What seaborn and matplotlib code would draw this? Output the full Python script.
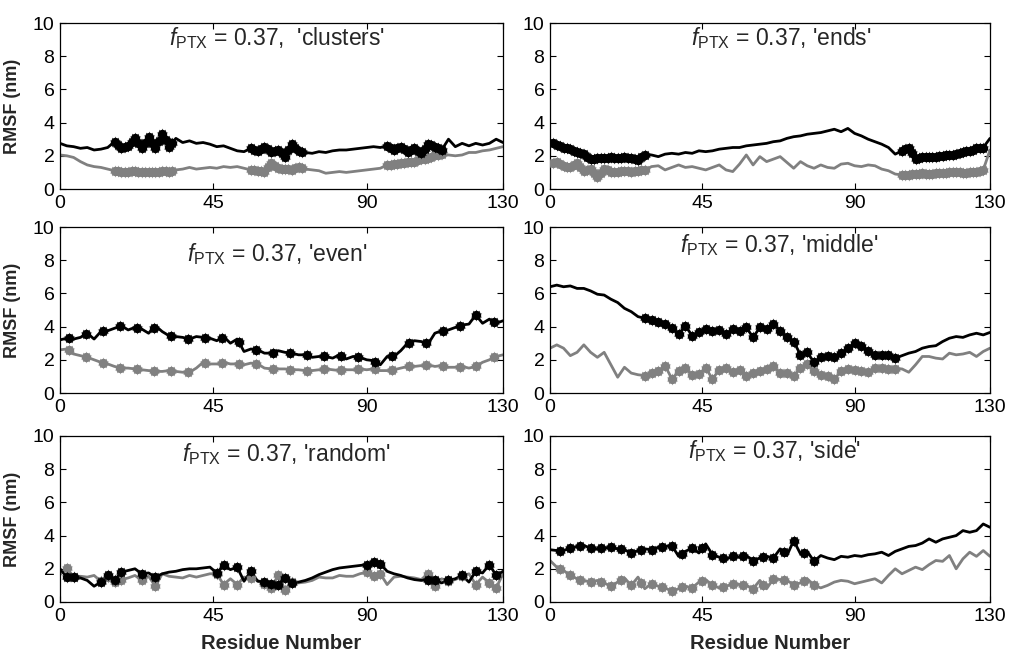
import numpy as np
import pandas as pd
import matplotlib
matplotlib.use("Agg")
import matplotlib.pyplot as plt
import seaborn as sns

# ---------------- data (RMSF in nm, sampled every 2 residues) ----------------
residues = list(range(0, 131, 2))

clusters_black = [2.75, 2.6, 2.55, 2.45, 2.5, 2.35, 2.4, 2.5, 2.85, 2.5, 2.6, 3.05, 2.45, 3.15, 2.45, 3.3, 2.55,
                  3.05, 2.8, 2.9, 2.75, 2.8, 2.7, 2.55, 2.6, 2.45, 2.3, 2.25, 2.45, 2.3, 2.55, 2.25, 2.35, 1.95,
                  2.7, 2.3, 2.2, 2.15, 2.25, 2.2, 2.3, 2.35, 2.35, 2.4, 2.45, 2.5, 2.55, 2.5, 2.6, 2.35, 2.55,
                  2.25, 2.45, 2.15, 2.7, 2.55, 2.35, 3.0, 2.55, 2.75, 2.6, 2.75, 2.65, 2.75, 3.0, 2.8]
clusters_gray = [2.05, 2.0, 1.9, 1.65, 1.45, 1.35, 1.3, 1.2, 1.1, 1.05, 1.05, 1.1, 1.0, 1.05, 1.0, 1.1, 1.05,
                 1.15, 1.2, 1.3, 1.2, 1.25, 1.3, 1.25, 1.35, 1.3, 1.35, 1.25, 1.15, 1.1, 1.05, 1.55, 1.25, 1.2,
                 1.15, 1.35, 1.2, 1.15, 1.1, 0.95, 1.0, 1.05, 1.0, 1.05, 1.1, 1.15, 1.2, 1.25, 1.45, 1.5, 1.55,
                 1.6, 1.65, 1.8, 1.85, 2.05, 2.1, 2.05, 2.0, 2.05, 2.2, 2.2, 2.3, 2.35, 2.45, 2.55]
clusters_marks = [16, 17, 18, 19, 20, 21, 22, 23, 24, 25, 26, 27, 28, 29, 30, 31, 32, 33,
                  56, 57, 58, 59, 60, 61, 62, 63, 64, 65, 66, 67, 68, 69, 70, 71,
                  96, 97, 98, 99, 100, 101, 102, 103, 104, 105, 106, 107, 108, 109, 110, 111, 112]

ends_black = [2.95, 2.65, 2.5, 2.4, 2.2, 2.1, 1.8, 1.85, 1.85, 1.9, 1.85, 1.9, 1.85, 1.75, 2.05, 2.05, 1.95,
              2.1, 2.15, 2.1, 2.2, 2.15, 2.3, 2.25, 2.3, 2.4, 2.45, 2.5, 2.5, 2.6, 2.65, 2.7, 2.75, 2.85, 2.9,
              3.05, 3.15, 3.2, 3.3, 3.35, 3.4, 3.5, 3.6, 3.45, 3.65, 3.35, 3.2, 3.0, 2.85, 2.7, 2.5, 2.1, 2.3,
              2.5, 1.8, 1.95, 1.95, 1.95, 2.0, 2.05, 2.1, 2.25, 2.3, 2.45, 2.5, 3.05]
ends_gray = [1.55, 1.6, 1.4, 1.3, 1.55, 1.1, 1.2, 0.75, 1.2, 1.05, 1.05, 1.1, 1.05, 1.1, 1.15, 1.35, 1.4,
             1.15, 1.3, 1.45, 1.3, 1.35, 1.25, 1.15, 1.3, 1.45, 1.15, 1.05, 1.5, 2.05, 1.45, 1.95, 1.65, 1.8,
             1.95, 1.6, 1.25, 1.65, 1.4, 1.25, 1.45, 1.3, 1.25, 1.5, 1.55, 1.4, 1.35, 1.45, 1.4, 1.2, 1.1,
             0.9, 0.85, 0.85, 0.9, 0.95, 0.9, 0.95, 0.95, 1.0, 1.05, 0.95, 1.0, 1.05, 1.15, 2.35]
ends_marks = [1, 2, 3, 4, 5, 6, 7, 8, 9, 10, 11, 12, 13, 14, 15, 16, 17, 18, 19, 20, 21, 22, 23, 24, 25,
              26, 27, 28, 104, 105, 106, 107, 108, 109, 110, 111, 112, 113, 114, 115, 116, 117, 118, 119,
              120, 121, 122, 123, 124, 125, 126, 127, 128]

even_black = [3.2, 3.3, 3.25, 3.35, 3.6, 3.25, 3.7, 3.75, 3.9, 4.05, 3.8, 3.95, 3.85, 3.6, 4.05, 3.7, 3.45,
              3.4, 3.35, 3.25, 3.4, 3.35, 3.3, 3.15, 3.4, 3.0, 3.25, 2.5, 2.65, 2.6, 2.4, 2.4, 2.55, 2.45,
              2.4, 2.3, 2.3, 2.15, 2.2, 2.2, 2.1, 2.3, 2.05, 2.2, 2.15, 2.0, 1.95, 1.7, 2.2, 2.2, 2.55, 3.0,
              3.15, 3.1, 2.95, 3.6, 3.75, 3.8, 3.95, 4.1, 4.15, 4.7, 4.2, 4.45, 4.2, 4.35]
even_gray = [2.6, 2.65, 2.35, 2.25, 2.15, 2.0, 1.85, 1.75, 1.6, 1.5, 1.5, 1.45, 1.4, 1.35, 1.3, 1.3, 1.35,
             1.3, 1.25, 1.25, 1.5, 1.85, 1.75, 1.75, 1.85, 1.75, 1.75, 1.7, 1.8, 1.75, 1.5, 1.45, 1.45, 1.45,
             1.4, 1.4, 1.35, 1.35, 1.4, 1.45, 1.4, 1.35, 1.4, 1.4, 1.45, 1.4, 1.45, 1.35, 1.35, 1.4, 1.5,
             1.6, 1.6, 1.65, 1.7, 1.6, 1.65, 1.55, 1.55, 1.6, 1.5, 1.6, 1.85, 2.0, 2.2, 2.3]
even_marks = [2.5, 7.5, 12.5, 17.5, 22.5, 27.5, 32.5, 37.5, 42.5, 47.5, 52.5, 57.5, 62.5, 67.5, 72.5,
              77.5, 82.5, 87.5, 92.5, 97.5, 102.5, 107.5, 112.5, 117.5, 122, 127.5]

middle_black = [6.4, 6.5, 6.4, 6.45, 6.3, 6.3, 6.15, 5.95, 5.9, 5.65, 5.45, 5.1, 4.9, 4.6, 4.5, 4.4, 4.25,
                4.15, 3.9, 3.55, 4.05, 3.45, 3.65, 3.85, 3.75, 3.8, 3.55, 3.85, 3.75, 3.95, 3.35, 3.95, 3.85,
                4.15, 3.75, 3.35, 3.1, 2.3, 2.45, 1.85, 2.15, 2.2, 2.15, 2.4, 2.7, 3.0, 2.85, 2.55, 2.3, 2.3,
                2.3, 2.1, 2.25, 2.4, 2.5, 2.7, 2.8, 2.85, 3.1, 3.3, 3.4, 3.35, 3.5, 3.6, 3.5, 3.65]
middle_gray = [2.7, 2.9, 2.7, 2.25, 2.45, 2.9, 2.45, 2.15, 2.45, 1.7, 0.95, 1.55, 1.2, 1.1, 1.05, 1.2, 1.3,
               1.65, 0.85, 1.3, 1.5, 1.1, 1.15, 1.5, 0.85, 1.4, 1.5, 1.25, 1.4, 1.05, 1.2, 1.3, 1.45, 1.6,
               1.2, 1.2, 1.05, 1.5, 1.75, 1.3, 1.1, 1.0, 0.85, 1.3, 1.45, 1.4, 1.3, 1.25, 1.5, 1.5, 1.45,
               1.45, 1.45, 1.25, 1.7, 2.2, 2.2, 2.1, 2.05, 2.4, 2.3, 2.35, 2.45, 2.2, 2.5, 2.7]
middle_marks = [28, 30, 32, 34, 36, 38, 40, 42, 44, 46, 48, 50, 52, 54, 56, 58, 60, 62, 64, 66, 68, 70,
                72, 74, 76, 78, 80, 82, 84, 86, 88, 90, 92, 94, 96, 98, 100, 102]

random_black = [2.0, 1.5, 1.5, 1.45, 1.3, 0.95, 1.2, 1.6, 1.3, 1.8, 1.9, 2.0, 1.7, 1.75, 1.5, 1.7, 1.8,
                1.85, 1.95, 2.0, 2.0, 2.05, 2.1, 1.75, 2.2, 1.95, 2.1, 1.25, 1.85, 1.25, 1.2, 1.1, 1.05, 1.45,
                1.15, 1.2, 1.3, 1.45, 1.65, 1.8, 1.95, 2.05, 2.1, 2.15, 2.2, 2.25, 2.4, 2.3, 1.85, 1.7, 1.6,
                1.45, 1.35, 1.3, 1.35, 1.3, 1.15, 1.3, 1.4, 1.6, 1.2, 1.85, 1.75, 2.25, 1.6, 1.85]
random_gray = [1.65, 2.05, 1.5, 1.55, 1.5, 1.6, 1.25, 1.5, 1.2, 1.35, 1.45, 1.6, 1.3, 1.55, 0.95, 1.7, 1.55,
               1.5, 1.45, 1.6, 1.5, 1.6, 1.7, 1.7, 1.05, 1.4, 1.05, 1.5, 1.45, 1.3, 1.1, 0.85, 1.6, 0.75,
               1.2, 1.15, 1.2, 1.3, 1.5, 1.45, 1.45, 1.6, 1.55, 1.55, 1.7, 1.8, 1.55, 1.7, 1.05, 1.5, 1.55,
               1.5, 1.45, 1.35, 1.7, 0.95, 1.4, 1.25, 1.35, 1.55, 1.7, 1.05, 1.5, 1.15, 0.85, 1.7]
random_marks = [2, 4, 12, 14, 16, 18, 24, 28, 46, 48, 52, 56, 60, 62, 64, 66, 68, 90, 92, 94,
                108, 110, 114, 118, 122, 126, 128]

side_black = [3.15, 3.1, 3.1, 3.25, 3.35, 3.4, 3.25, 3.2, 3.25, 3.3, 3.2, 3.15, 2.95, 3.1, 3.2, 3.15, 3.3,
              3.35, 3.4, 2.75, 3.05, 3.25, 2.95, 3.5, 2.85, 2.7, 2.55, 2.8, 2.7, 2.8, 2.5, 2.65, 2.75, 2.65,
              3.2, 2.8, 3.7, 2.9, 3.05, 2.45, 2.8, 2.65, 2.55, 2.75, 2.7, 2.8, 2.75, 2.85, 2.9, 3.0, 2.8,
              3.05, 3.2, 3.35, 3.4, 3.55, 3.8, 3.6, 3.8, 3.9, 4.0, 4.3, 4.2, 4.3, 4.7, 4.5]
side_gray = [2.5, 2.1, 1.9, 1.6, 1.4, 1.3, 1.2, 1.3, 1.15, 0.95, 1.2, 1.45, 1.0, 1.5, 0.8, 1.1, 0.95,
             0.85, 0.65, 0.8, 0.95, 0.85, 1.2, 1.35, 1.0, 0.85, 0.95, 1.1, 1.05, 1.0, 0.8, 1.3, 0.8, 1.4,
             1.35, 1.3, 1.05, 1.15, 1.4, 1.0, 0.85, 1.0, 1.2, 1.3, 1.25, 1.1, 1.2, 1.3, 1.4, 1.15, 1.6,
             2.0, 1.7, 1.9, 2.1, 1.95, 2.25, 2.5, 2.45, 2.8, 2.0, 2.6, 3.0, 2.75, 3.1, 2.75]
side_marks = [3, 6, 9, 12, 15, 18, 21, 24, 27, 30, 33, 36, 39, 42, 45, 48, 51, 54, 57, 60, 63, 66,
              69, 72, 75, 78]

panel_names = ["clusters", "ends", "even", "middle", "random", "side"]
x_ticks = [0, 45, 90, 130]
y_ticks = [0, 2, 4, 6, 8, 10]

panels = {
    "clusters": (clusters_black, clusters_gray, clusters_marks),
    "ends": (ends_black, ends_gray, ends_marks),
    "even": (even_black, even_gray, even_marks),
    "middle": (middle_black, middle_gray, middle_marks),
    "random": (random_black, random_gray, random_marks),
    "side": (side_black, side_gray, side_marks),
}

# ---------------- styling / layout ----------------
sns.set_style("ticks")
FONT = "Liberation Sans"
plt.rcParams["font.family"] = [FONT, "DejaVu Sans"]
plt.rcParams["mathtext.fontset"] = "custom"
plt.rcParams["mathtext.rm"] = FONT
plt.rcParams["mathtext.it"] = FONT + ":italic"
plt.rcParams["mathtext.bf"] = FONT + ":bold"

BLACK = "#000000"
GRAY = "#808080"

fig = plt.figure(figsize=(10.10, 6.52), dpi=100)
W, H = 1010.0, 652.0
col_left = [60, 550]
col_width = [443, 440]
row_bottom = [189, 393, 602]
ax_h = 166
title_x = {"clusters": 0.49, "ends": 0.525, "even": 0.49, "middle": 0.52, "random": 0.51, "side": 0.51}
title_y = {"clusters": 0.867, "ends": 0.867, "even": 0.795, "middle": 0.849, "random": 0.849, "side": 0.867}
title_sep = {"clusters": ",  ", "ends": ", ", "even": ", ", "middle": ", ", "random": ", ", "side": ", "}

for i, name in enumerate(panel_names):
    r, c = divmod(i, 2)
    ax = fig.add_axes([col_left[c] / W, 1 - row_bottom[r] / H, col_width[c] / W, ax_h / H])
    black, gray, marks = panels[name]
    df = pd.DataFrame({"residue": residues, "black": black, "gray": gray})
    mk = pd.DataFrame({
        "residue": marks,
        "black": np.interp(marks, residues, black),
        "gray": np.interp(marks, residues, gray),
    })
    for key, col in (("gray", GRAY), ("black", BLACK)):
        sns.lineplot(data=df, x="residue", y=key, ax=ax, color=col, lw=2.0, estimator=None, sort=False)
        sns.scatterplot(data=mk, x="residue", y=key, ax=ax, color=col, marker=(10, 1, 0), s=75,
                        linewidth=0, zorder=3)
        sns.scatterplot(data=mk, x="residue", y=key, ax=ax, color=col, marker="o", s=45,
                        linewidth=0, zorder=3)

    ax.set_xlim(0, 130)
    ax.set_ylim(0, 10)
    ax.set_xticks(x_ticks)
    ax.set_yticks(y_ticks)
    ax.tick_params(direction="in", length=4, width=0.8, labelsize=14, pad=4,
                   top=True, right=True, colors="black")
    for sp in ax.spines.values():
        sp.set_visible(True)
        sp.set_linewidth(0.9)
        sp.set_color("black")
    ax.set_xlabel("")
    ax.set_ylabel("")
    if c == 0:
        ax.set_ylabel("RMSF (nm)", fontsize=13, fontweight="bold")
        ax.yaxis.set_label_coords(-0.088, 0.5)
    if r == 2:
        ax.set_xlabel("Residue Number", fontsize=14.5, fontweight="bold")
        ax.xaxis.set_label_coords(0.5, -0.19)
    ax.text(title_x[name], title_y[name],
            r"$\mathit{f}_{\mathrm{PTX}}$ = 0.37" + title_sep[name] + "'" + name + "'",
            transform=ax.transAxes, ha="center", va="baseline", fontsize=16.5)

fig.savefig("out.png", dpi=100, facecolor="white")
